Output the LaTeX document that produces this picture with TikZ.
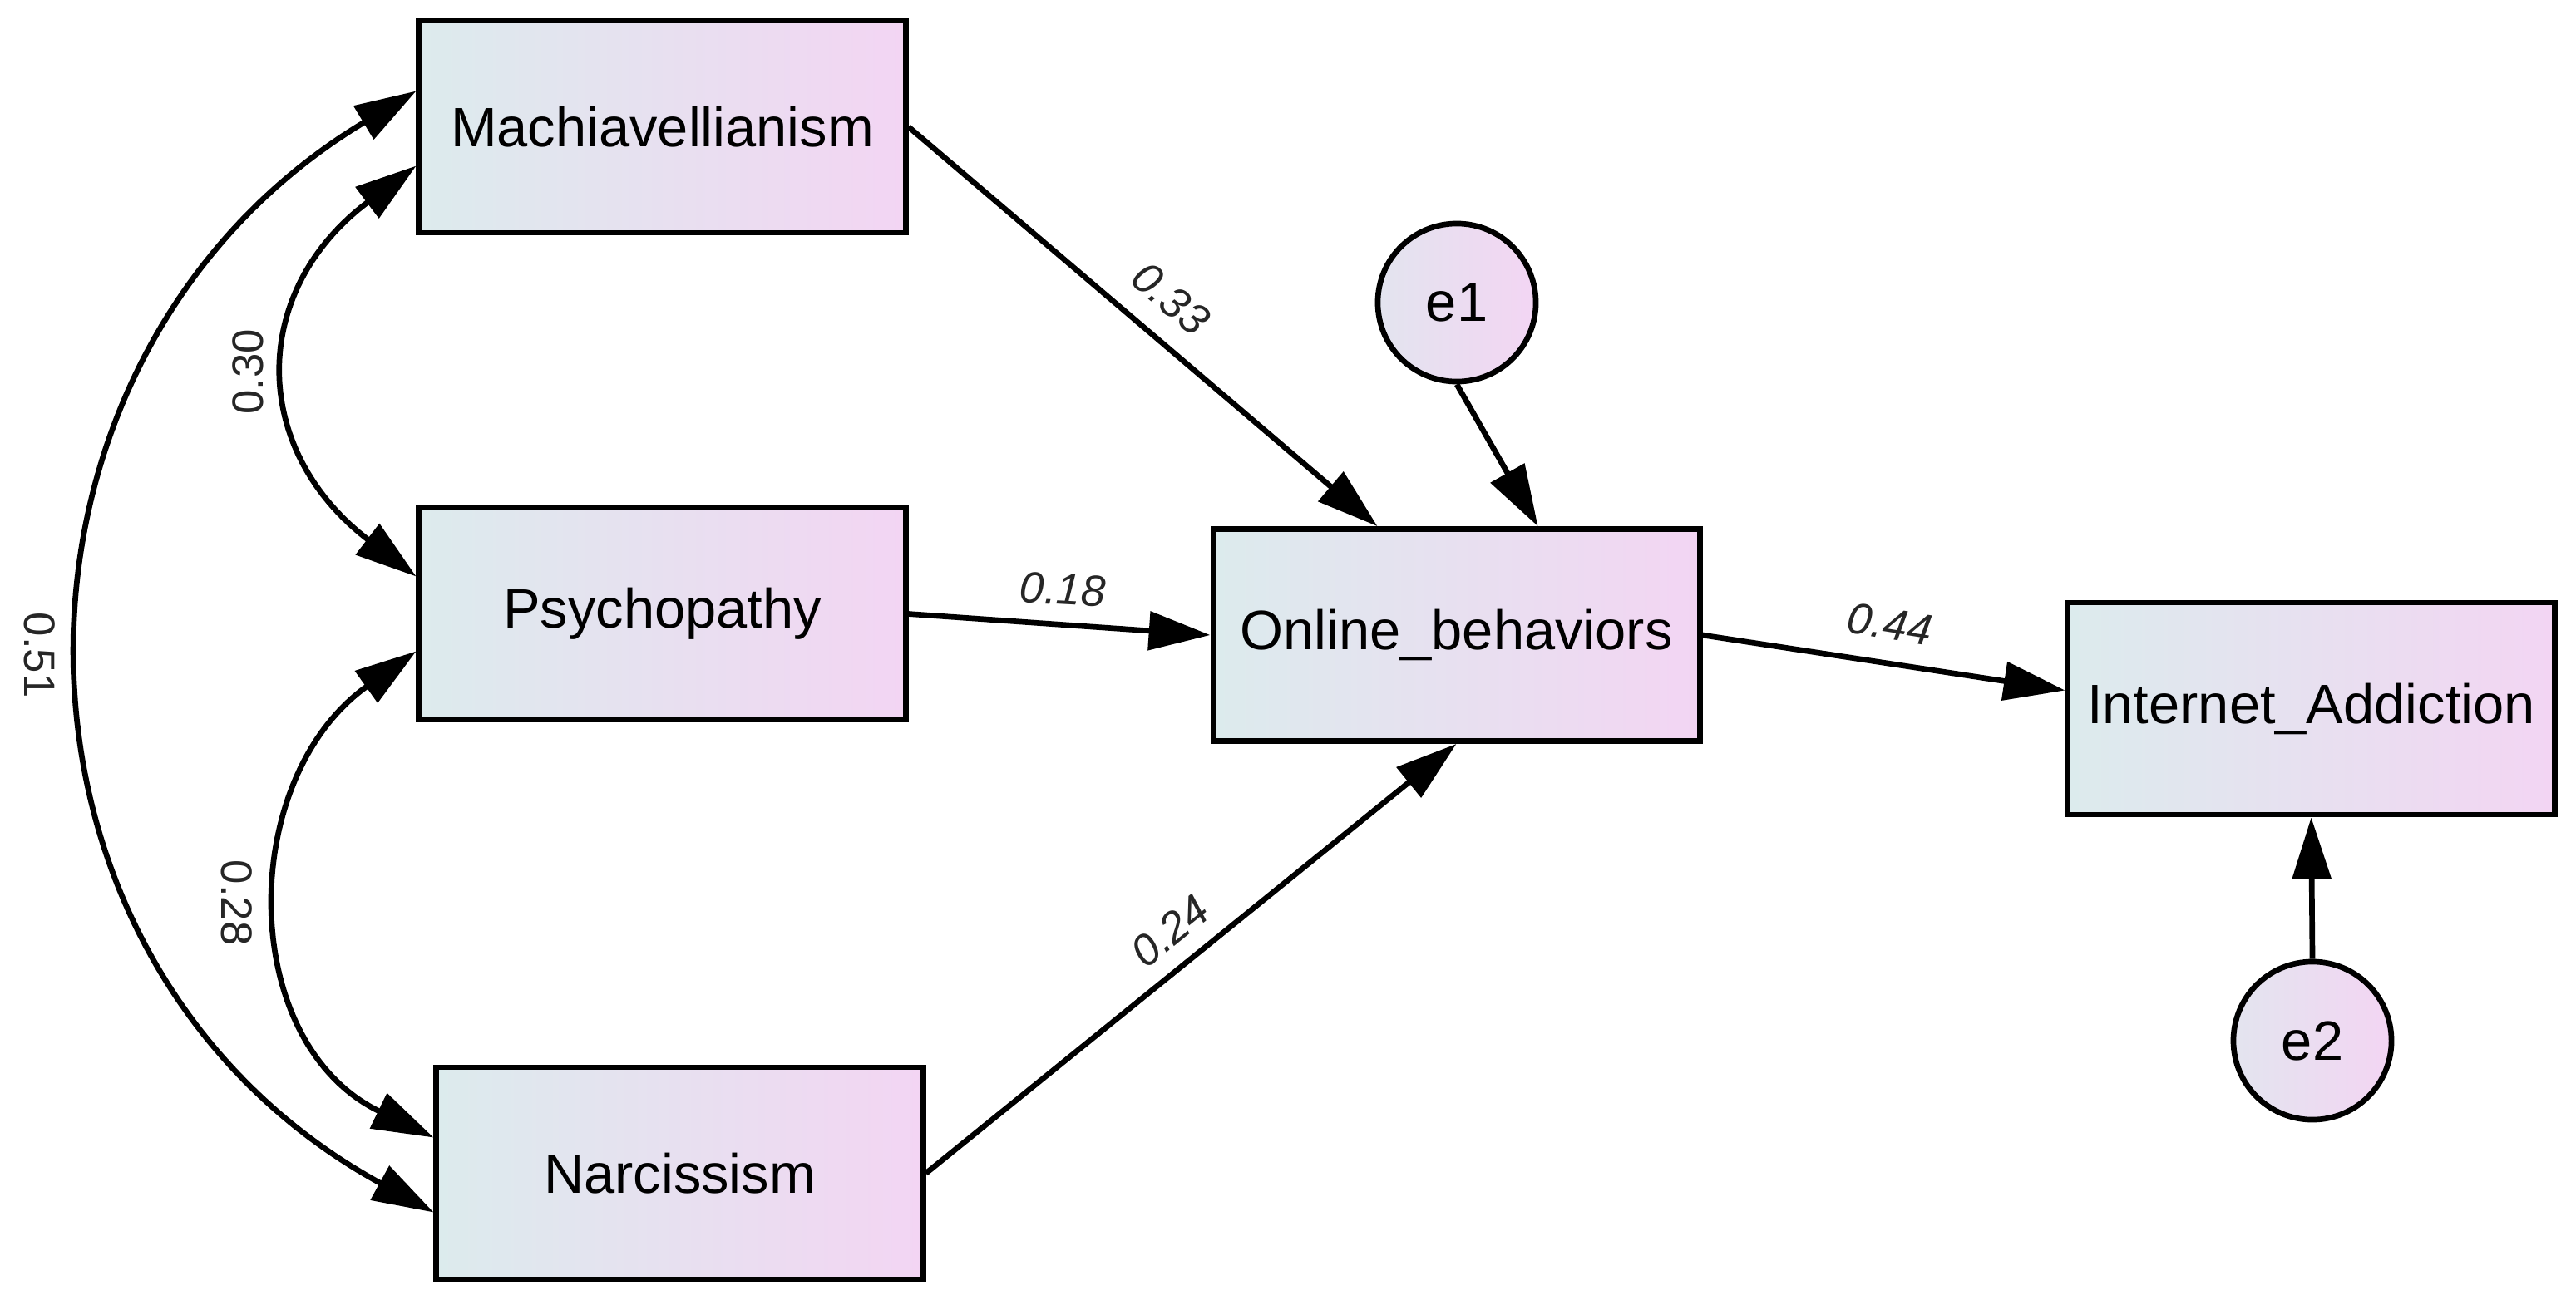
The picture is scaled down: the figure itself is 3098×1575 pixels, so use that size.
\documentclass[tikz,border=0pt]{standalone}
\usepackage{fontspec}
\setmainfont{Liberation Sans}
\usetikzlibrary{arrows.meta,calc}
\definecolor{gl}{RGB}{220,235,237}
\definecolor{gr}{RGB}{243,213,243}
\begin{document}
\begin{tikzpicture}[x=0.01cm, y=-0.01cm,
  >={Triangle[length=21pt,width=13pt]},
  varbox/.style={draw, line width=1.9pt, left color=gl, right color=gr,
    minimum width=5.85cm, minimum height=2.55cm, inner sep=0pt,
    font=\fontsize{19}{22}\selectfont},
  errnode/.style={draw, circle, line width=1.9pt, left color=gl!70!gr, right color=gr,
    minimum size=1.9cm, inner sep=0pt, font=\fontsize{19}{22}\selectfont},
  pth/.style={->, line width=1.9pt},
  cov/.style={<->, line width=1.9pt},
  coef/.style={font=\fontsize{15}{18}\selectfont\itshape, text=black!85, inner sep=1pt},
  corr/.style={font=\fontsize{15}{18}\selectfont, text=black!85, inner sep=1pt}]
\useasboundingbox (0,0) rectangle (3098,1575);

\node[varbox] (mach) at (796.5,152.5) {Machiavellianism};
\node[varbox] (psych) at (796.5,738.5) {Psychopathy};
\node[varbox] (narc) at (817.5,1411.5) {Narcissism};
\node[varbox] (online) at (1751.5,764) {Online\_behaviors};
\node[varbox] (inet) at (2779.5,852.5) {Internet\_Addiction};
\node[errnode] (e1) at (1752,364) {e1};
\node[errnode] (e2) at (2781,1252) {e2};

\draw[cov] ($(mach.west)+(0,47)$) .. controls (300,350) and (300,540) .. ($(psych.west)+(0,-45)$);
\draw[cov] ($(psych.west)+(0,45)$) .. controls (285,937) and (285,1254) .. ($(narc.west)+(0,-43)$);
\draw[cov] ($(mach.west)+(0,-43)$) .. controls (-32,430) and (-32,1155) .. ($(narc.west)+(0,47)$);

\draw[pth] (mach.east) -- ($(online.north)+(-95,0)$);
\draw[pth] (e1.south) -- ($(online.north)+(98,0)$);
\draw[pth] (psych.east) -- (online.west);
\draw[pth] (narc.east) -- (online.south);
\draw[pth] (online.east) -- ($(inet.west)+(0,-22)$);
\draw[pth] (e2.north) -- (inet.south);

\node[corr, rotate=90] (l030) at (298,447) {0.30};
\node[corr, rotate=-90] (l051) at (48,788) {0.51};
\node[corr, rotate=-90] (l028) at (285,1086) {0.28};
\node[coef, rotate=-40] (l033) at (1408,359) {0.33};
\node[coef, rotate=-3] (l018) at (1278,709) {0.18};
\node[coef, rotate=39] (l024) at (1407,1120) {0.24};
\node[coef, rotate=-9] (l044) at (2273,751) {0.44};
\end{tikzpicture}
\end{document}
